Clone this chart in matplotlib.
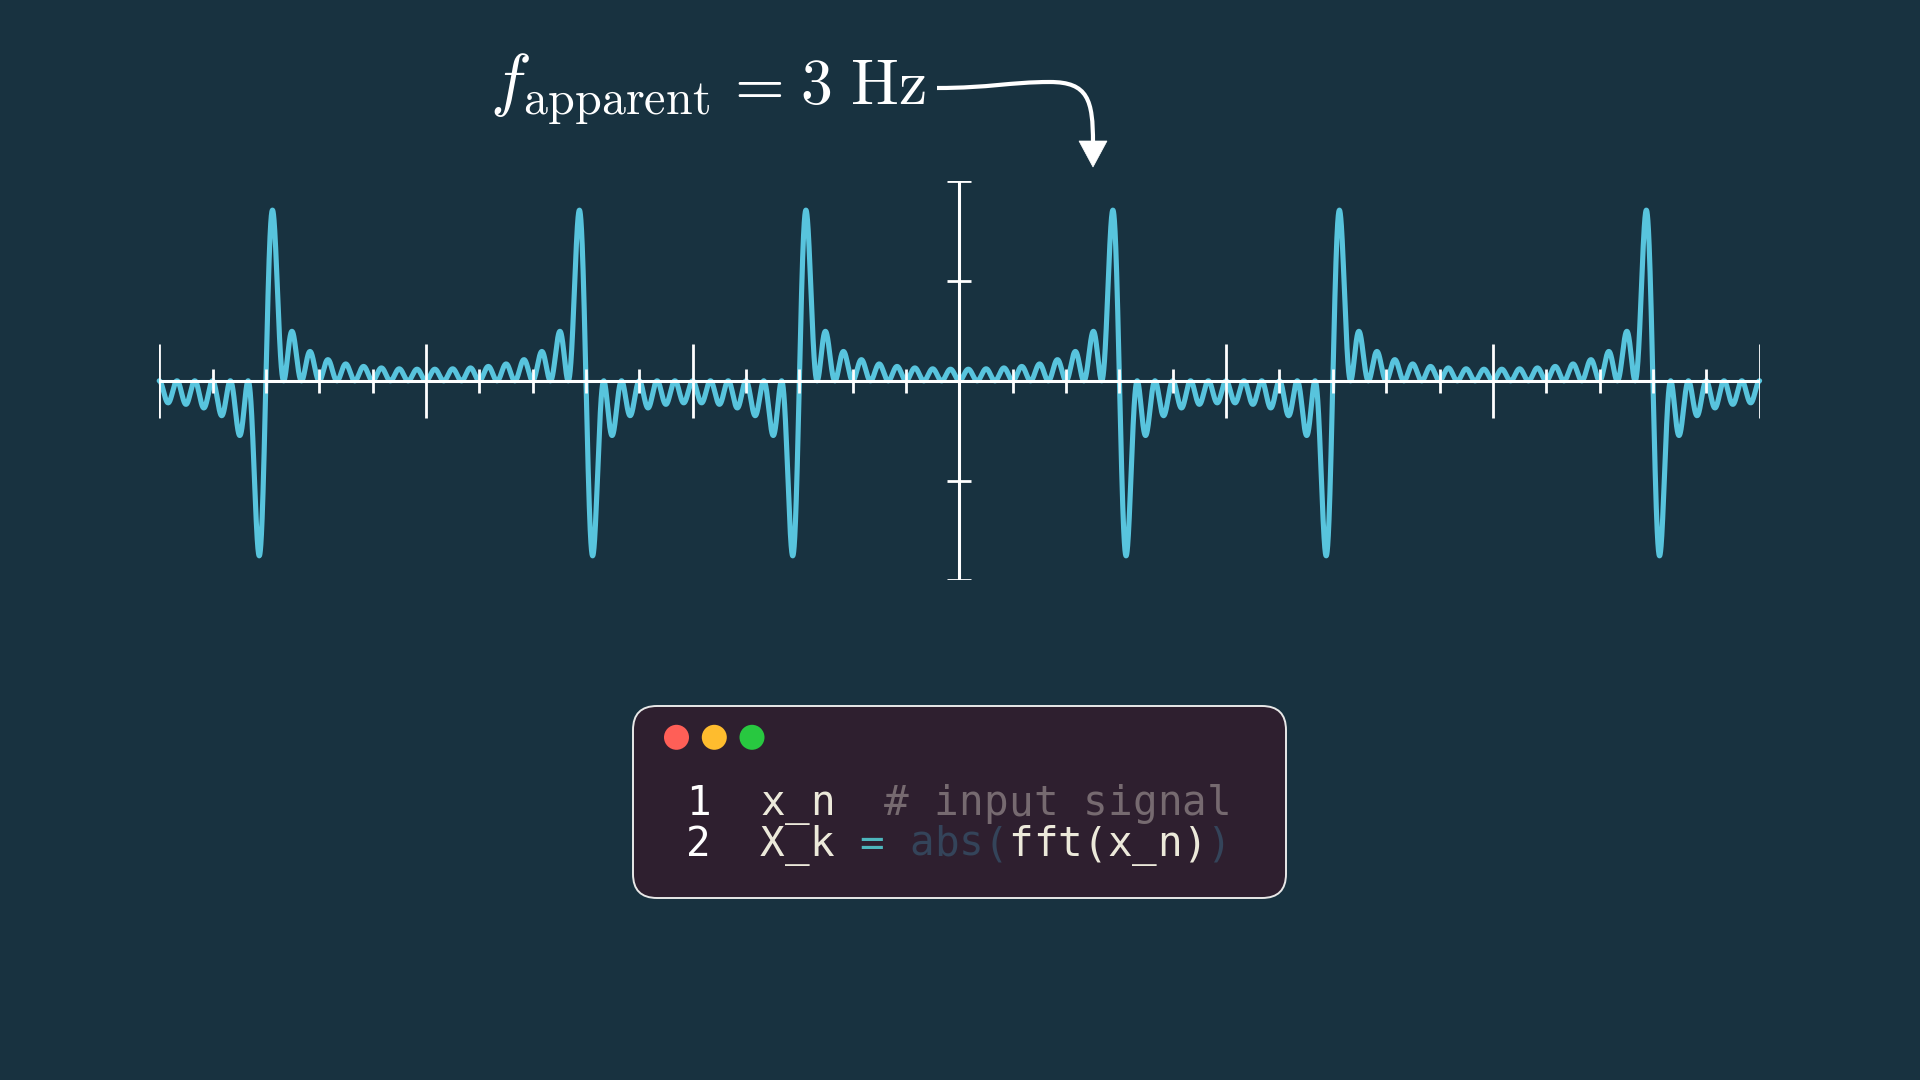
import numpy as np
import matplotlib
matplotlib.use("Agg")
import matplotlib.pyplot as plt
from matplotlib.patches import FancyBboxPatch, Circle, Polygon, PathPatch
from matplotlib.path import Path

# ---------------- data ----------------
x_range = [-3, 3]
y_range = [-2, 2]
x_major_ticks = [-3, -2, -1, 1, 2, 3]
x_minor_ticks = [-2.8, -2.6, -2.4, -2.2, -1.8, -1.6, -1.4, -1.2,
                 -0.8, -0.6, -0.4, -0.2, 0.2, 0.4, 0.6, 0.8,
                 1.2, 1.4, 1.6, 1.8, 2.2, 2.4, 2.6, 2.8]
y_ticks = [-2, -1, 1, 2]
pattern_period = 2.0      # spike pattern repeats every 2 units
rising_edge = -0.6        # trough -> peak transition
falling_edge = 0.6        # peak -> trough transition
n_harmonics = 29          # ringing frequency of the band-limited signal
peak_height = 1.71        # height of the positive spikes

title_left = r"$f_{\mathrm{apparent}}$"
title_eq = r"$=$"
title_value = r"$3\ \mathrm{Hz}$"
code_lines = [
    [("1", "#FFFFFF", 0), ("x_n", "#ECE9DA", 3), ("# input signal", "#766A70", 8)],
    [("2", "#FFFFFF", 0), ("X_k", "#ECE9DA", 3), ("=", "#4DB6BD", 7),
     ("abs(", "#34445A", 9), ("fft(x_n)", "#ECE9DA", 13), (")", "#34445A", 21)],
]

# ---------------- style ----------------
BG = "#183240"
CURVE = "#58C4DD"
plt.rcParams["mathtext.fontset"] = "cm"

fig = plt.figure(figsize=(19.2, 10.8), dpi=100, facecolor=BG)

# overlay in pixel coordinates (y downwards)
ov = fig.add_axes([0, 0, 1, 1])
ov.set_xlim(0, 1920)
ov.set_ylim(1080, 0)
ov.axis("off")
ov.set_facecolor(BG)

# plot axes: x in [-3, 3] -> 159..1760 px, y in [-2, 2] -> 580..181 px
L, R, T, B = 159.2, 1759.6, 181.2, 580.4
ax = fig.add_axes([L / 1920, (1080 - B) / 1080, (R - L) / 1920, (B - T) / 1080])
ax.set_xlim(*x_range)
ax.set_ylim(*y_range)
ax.axis("off")
ax.patch.set_alpha(0)

# band-limited signal built from the two edges of each period
t = np.linspace(x_range[0], x_range[1], 16001)


def edge_kernel(d):
    th = 2 * np.pi * d / pattern_period
    out = np.zeros_like(th)
    for k in range(1, n_harmonics + 1):
        out += np.sin(k * th)
    return out


sig = edge_kernel(t - rising_edge) - edge_kernel(t - falling_edge)
sig = sig * peak_height / sig.max()
ax.plot(t, sig, color=CURVE, lw=3.7, solid_capstyle="round",
        solid_joinstyle="round", zorder=2, clip_on=False)

# axes lines + ticks
ax_lw = 2.2
unit_x_px = (R - L) / (x_range[1] - x_range[0])
unit_y_px = (B - T) / (y_range[1] - y_range[0])
ax.plot(x_range, [0, 0], color="white", lw=ax_lw, zorder=3, solid_capstyle="butt")
ax.plot([0, 0], y_range, color="white", lw=ax_lw, zorder=3, solid_capstyle="butt")
ax.vlines(x_major_ticks, -37 / unit_y_px, 37 / unit_y_px, color="white", lw=2.0, zorder=3)
ax.vlines(x_minor_ticks, -12 / unit_y_px, 12 / unit_y_px, color="white", lw=2.0, zorder=3)
ax.hlines(y_ticks, -12 / unit_x_px, 12 / unit_x_px, color="white", lw=2.0, zorder=3)

# title
ov.text(490, 104, title_left, fontsize=49.5, color="white", ha="left", va="baseline")
ov.text(723, 104, title_eq, fontsize=46, color="white", ha="left", va="baseline")
ov.text(800, 104, title_value, fontsize=46, color="white", ha="left", va="baseline")

# curved arrow
verts = [(937, 88), (990, 88), (1010, 82), (1050, 82),
         (1088, 82), (1093, 100), (1093, 143)]
codes = [Path.MOVETO, Path.CURVE4, Path.CURVE4, Path.CURVE4,
         Path.CURVE4, Path.CURVE4, Path.CURVE4]
ov.add_patch(PathPatch(Path(verts, codes), fill=False, edgecolor="white",
                       lw=3.0, capstyle="butt"))
ov.add_patch(Polygon([(1079, 141), (1107, 141), (1093, 167)], closed=True,
                     facecolor="white", edgecolor="white", lw=0.5))

# code window
box = FancyBboxPatch((633, 706), 653, 192,
                     boxstyle="round,pad=0,rounding_size=24",
                     facecolor="#2E1F2F", edgecolor="#E8E8E8", lw=1.4)
ov.add_patch(box)
for cx, col in zip([676.5, 714.3, 752.0], ["#FF5F57", "#FEBC2E", "#28C840"]):
    ov.add_patch(Circle((cx, 737.3), 12.5, facecolor=col, edgecolor="none"))

adv = 24.8
col0 = 698.0
baselines = [815, 856]
for line, base in zip(code_lines, baselines):
    for tok, color, col in line:
        for i, ch in enumerate(tok):
            if ch == " ":
                continue
            ov.text(col0 + (col + i) * adv, base, ch, color=color,
                    family="DejaVu Sans Mono", fontsize=29.5,
                    ha="center", va="baseline")

fig.savefig("out.png", dpi=100, facecolor=BG)
